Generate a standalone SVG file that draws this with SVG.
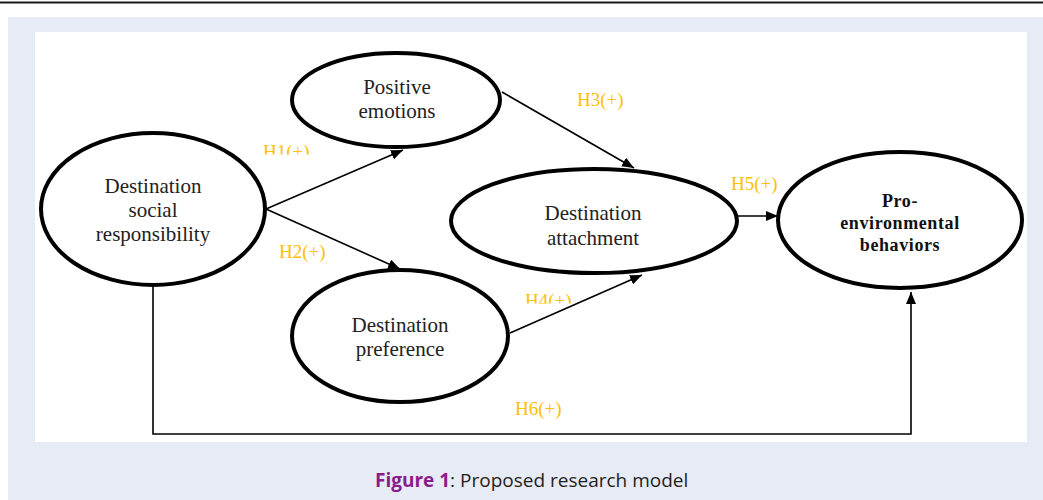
<svg xmlns="http://www.w3.org/2000/svg" width="1043" height="500" viewBox="0 0 1043 500">
<style>
.node ellipse{fill:#fff;stroke:#000;stroke-width:4}
.nt{font-family:"Liberation Serif","Times New Roman",serif;font-size:21px;fill:#222;text-anchor:middle}
.bt{font-family:"Liberation Serif","Times New Roman",serif;font-size:18px;font-weight:bold;fill:#111;text-anchor:middle;letter-spacing:0.6px}
.lbl{font-family:"Liberation Serif","Times New Roman",serif;font-size:19px;fill:#ffc000}
.conn{stroke:#000;stroke-width:1.6;fill:none}
.cap{font-family:"Open Sans","Noto Sans","Liberation Sans",sans-serif;font-size:19px;fill:#231f20}
</style>
<defs>
<marker id="arr" viewBox="0 0 12 10" refX="12" refY="5" markerWidth="12" markerHeight="10" markerUnits="userSpaceOnUse" orient="auto">
<path d="M0,0 L12,5 L0,10 Z" fill="#000"/>
</marker>
<clipPath id="c1"><rect x="250" y="130" width="80" height="24.5"/></clipPath>
<clipPath id="c4"><rect x="515" y="280" width="70" height="23.5"/></clipPath>
</defs>
<rect x="0" y="0" width="1043" height="500" fill="#fff"/>
<rect x="0" y="1.5" width="1043" height="2" fill="#1a1a1a"/>
<rect x="8" y="17" width="1035" height="483" fill="#e7ebf5"/>
<rect x="35" y="32" width="992" height="410" fill="#fff"/>

<g id="connectors">
<line class="conn" x1="266" y1="209" x2="403" y2="150" marker-end="url(#arr)"/>
<line class="conn" x1="266" y1="209" x2="400" y2="269" marker-end="url(#arr)"/>
<line class="conn" x1="502" y1="92" x2="634" y2="168" marker-end="url(#arr)"/>
<line class="conn" x1="510" y1="333" x2="642" y2="275" marker-end="url(#arr)"/>
<line class="conn" x1="737" y1="216" x2="778" y2="216" marker-end="url(#arr)"/>
<polyline class="conn" points="153,286 153,434 911,434 911,292" marker-end="url(#arr)"/>
<text class="lbl" x="263" y="158" clip-path="url(#c1)">H1(+)</text>
<text class="lbl" x="279" y="258">H2(+)</text>
<text class="lbl" x="577" y="106">H3(+)</text>
<text class="lbl" x="525" y="307" clip-path="url(#c4)">H4(+)</text>
<text class="lbl" x="731" y="190">H5(+)</text>
<text class="lbl" x="515" y="415">H6(+)</text>
</g>

<g id="dsr" class="node">
<ellipse cx="153" cy="209" rx="112" ry="76"/>
<text class="nt" x="153" y="193">Destination</text>
<text class="nt" x="153" y="217">social</text>
<text class="nt" x="153" y="241">responsibility</text>
</g>
<g id="pe" class="node">
<ellipse cx="396" cy="100" rx="104" ry="47"/>
<text class="nt" x="397" y="94">Positive</text>
<text class="nt" x="397" y="118">emotions</text>
</g>
<g id="dp" class="node">
<ellipse cx="400" cy="336" rx="108" ry="66"/>
<text class="nt" x="400" y="332">Destination</text>
<text class="nt" x="400" y="356">preference</text>
</g>
<g id="da" class="node">
<ellipse cx="594" cy="221" rx="143" ry="52"/>
<text class="nt" x="593" y="220">Destination</text>
<text class="nt" x="593" y="245">attachment</text>
</g>
<g id="peb" class="node">
<ellipse cx="900" cy="220" rx="122" ry="68"/>
<text class="bt" x="900" y="207">Pro-</text>
<text class="bt" x="900" y="229">environmental</text>
<text class="bt" x="900" y="251">behaviors</text>
</g>

<text class="cap" x="375" y="487"><tspan font-weight="bold" fill="#8b1c8c">Figure 1</tspan>: Proposed research model</text>
</svg>
